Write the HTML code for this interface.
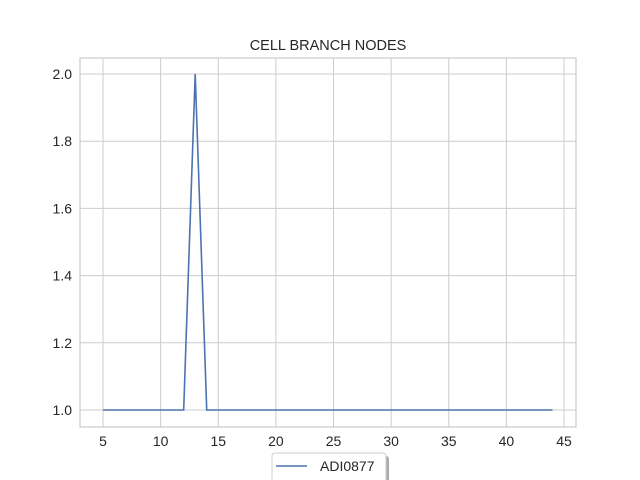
<!DOCTYPE html>
<html><head><meta charset="utf-8"><style>body{margin:0;background:#fff}svg{display:block;font-family:"Liberation Sans",sans-serif}</style></head>
<body>
<svg id="c" width="640" height="480"></svg>
<script>
const xVals=[5,6,7,8,9,10,11,12,13,14,15,16,17,18,19,20,21,22,23,24,25,26,27,28,29,30,31,32,33,34,35,36,37,38,39,40,41,42,43,44];
const yVals=[1,1,1,1,1,1,1,1,2,1,1,1,1,1,1,1,1,1,1,1,1,1,1,1,1,1,1,1,1,1,1,1,1,1,1,1,1,1,1,1];
const xTicks=[5,10,15,20,25,30,35,40,45];
const yTicks=[1.0,1.2,1.4,1.6,1.8,2.0];
const seriesName="ADI0877";
const titleText="CELL BRANCH NODES";
const NS="http://www.w3.org/2000/svg";
const svg=document.getElementById('c');
const L=80,R=576,T=58,B=427;
const xs=v=>103+(v-5)*(564-103)/40;
const ys=v=>410-(v-1)*(410-74);
function mk(t,a,p){const e=document.createElementNS(NS,t);for(const k in a)e.setAttribute(k,a[k]);(p||svg).appendChild(e);return e;}
const grid=mk('g',{});


xTicks.forEach(t=>{mk('line',{x1:xs(t),x2:xs(t),y1:T,y2:B,stroke:'#cccccc','stroke-width':1},grid);
const l=mk('text',{x:xs(t),y:B+19,'text-anchor':'middle','font-size':14,fill:'#262626'});l.textContent=t;

});
yTicks.forEach(t=>{mk('line',{x1:L,x2:R,y1:ys(t),y2:ys(t),stroke:'#cccccc','stroke-width':1},grid);
const l=mk('text',{x:L-8,y:ys(t)+5,'text-anchor':'end','font-size':14,fill:'#262626'});l.textContent=t.toFixed(1);

});
const frame=mk('rect',{x:L,y:T,width:R-L,height:B-T,fill:'none',stroke:'#cccccc','stroke-width':1.2});


const line=mk('polyline',{points:xVals.map((x,i)=>xs(x)+','+ys(yVals[i])).join(' '),fill:'none',stroke:'#4c72b0','stroke-width':1.6});


const title=mk('text',{x:328,y:50,'text-anchor':'middle','font-size':14.5,fill:'#262626'});title.textContent=titleText;


const lg=mk('g',{});


mk('rect',{x:275,y:456,width:114,height:30,rx:3,fill:'#aaaaaa'},lg);
mk('rect',{x:272,y:453,width:114,height:30,rx:3,fill:'#fff',stroke:'#cccccc'},lg);
mk('line',{x1:276,x2:307,y1:466,y2:466,stroke:'#4c72b0','stroke-width':1.6},lg);
const lt=mk('text',{x:320,y:471,'font-size':14,fill:'#262626'},lg);lt.textContent=seriesName;


</script>
</body></html>
